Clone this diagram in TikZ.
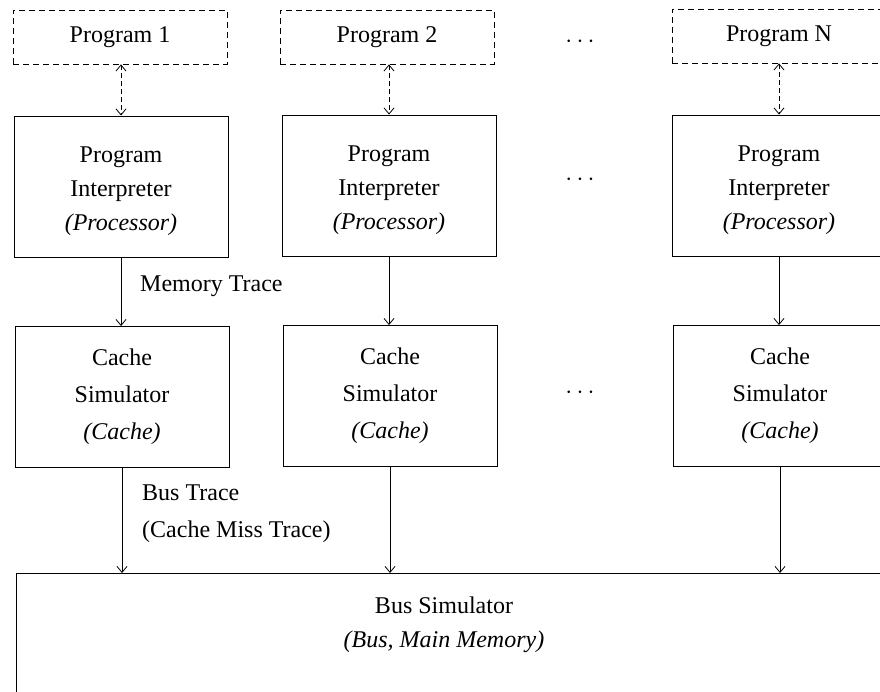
\documentclass[tikz,border=0pt]{standalone}
\usepackage{fontspec}
\setmainfont{Liberation Serif}
\usetikzlibrary{arrows.meta}
\begin{document}
\begin{tikzpicture}[x=1pt,y=-1pt,
  every node/.style={font=\fontsize{24}{34}\selectfont},
  prog/.style={draw,dashed,dash pattern=on 6pt off 4pt,line width=0.8pt,minimum width=214pt,minimum height=54pt,inner sep=0pt},
  box/.style={draw,line width=0.9pt,minimum width=214pt,minimum height=141pt,align=center,inner sep=0pt},
  boxtext/.style={align=center,inner sep=0pt},
  arr/.style={line width=0.8pt,-{Straight Barb[length=6pt,width=10pt]}},
  darr/.style={line width=0.8pt,dashed,dash pattern=on 5pt off 3pt,{Straight Barb[length=6pt,width=10pt]}-{Straight Barb[length=6pt,width=10pt]}},
  lbl/.style={anchor=west,align=left,inner sep=0pt}]
\useasboundingbox (0,0) rectangle (880,692);
\clip (0,0) rectangle (880,692);
% top row
\node[prog] (p1) at (120,37) {Program 1};
\node[prog] (p2) at (387,37) {Program 2};
\node[prog] (pn) at (779,36) {Program N};
\node (d1) at (580,42) {$\cdots$};
% interpreters
\node[box,label={[boxtext,name=i1t,yshift=-5pt]center:{Program\\Interpreter\\\textit{(Processor)}}}] (i1) at (121,186.5) {};
\node[box,label={[boxtext,name=i2t,yshift=-5pt]center:{Program\\Interpreter\\\textit{(Processor)}}}] (i2) at (389,185.5) {};
\node[box,label={[boxtext,name=int,yshift=-5pt]center:{Program\\Interpreter\\\textit{(Processor)}}}] (in) at (779,185.5) {};
\node (d2) at (580,180) {$\cdots$};
% caches
\node[box,label={[boxtext,name=c1t,font=\fontsize{24}{37}\selectfont]center:{Cache\\Simulator\\\textit{(Cache)}}}] (c1) at (122,397) {};
\node[box,label={[boxtext,name=c2t,font=\fontsize{24}{37}\selectfont]center:{Cache\\Simulator\\\textit{(Cache)}}}] (c2) at (390,396) {};
\node[box,label={[boxtext,name=cnt,font=\fontsize{24}{37}\selectfont]center:{Cache\\Simulator\\\textit{(Cache)}}}] (cn) at (780,396) {};
\node (d3) at (580,393) {$\cdots$};
% bus
\node[draw,line width=0.9pt,minimum width=900pt,minimum height=160pt,anchor=north west,inner sep=0pt] (bus) at (16,573) {};
\node[align=center] (bustext) at (444,625) {Bus Simulator\\\textit{(Bus, Main Memory)}};
% connectors
\draw[darr] (p1.south -| i1.north) -- (i1.north);
\draw[darr] (p2.south -| i2.north) -- (i2.north);
\draw[darr] (pn.south -| in.north) -- (in.north);
\draw[arr] (i1.south) -- (c1.north -| i1.south);
\draw[arr] (i2.south) -- (c2.north -| i2.south);
\draw[arr] (in.south) -- (cn.north -| in.south);
\draw[arr] (c1.south) -- (c1.south |- bus.north);
\draw[arr] (c2.south) -- (c2.south |- bus.north);
\draw[arr] (cn.south) -- (cn.south |- bus.north);
% labels
\node[lbl] (mt) at (140,286) {Memory Trace};
\node[lbl,font=\fontsize{24}{37}\selectfont] (bt) at (142,514) {Bus Trace\\(Cache Miss Trace)};
\end{tikzpicture}
\end{document}
